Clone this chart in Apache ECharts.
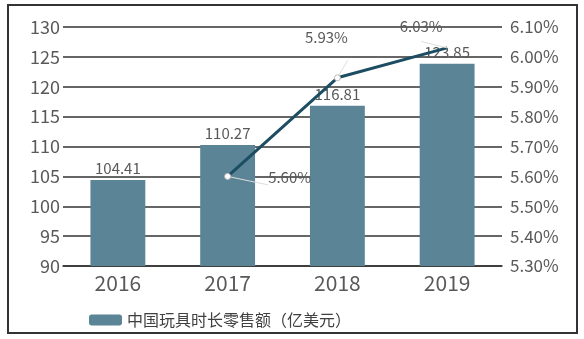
<!DOCTYPE html>
<html>
<head>
<meta charset="UTF-8">
<title>中国玩具时长零售额</title>
<script src="https://cdn.jsdelivr.net/npm/echarts@6/dist/echarts.min.js"></script>
<style>
  html, body { margin: 0; padding: 0; background: #fff; }
  #myChart { width: 584px; height: 339px; }
</style>
</head>
<body>
<div id="myChart"></div>
<script>
  var years = ['2016', '2017', '2018', '2019'];
  var sales = [104.41, 110.27, 116.81, 123.85];
  var rates = [null, 5.60, 5.93, 6.03];
  var salesName = '中国玩具时长零售额（亿美元）';
  var rateName = '增长率';

  var textColor = '#595959';
  var font = '"Noto Sans CJK SC", "Noto Sans", sans-serif';

  // per-point label placement (callout style as in the source picture)
  var rateLabelOffsets = [null, [32, 1], [-11, -24], [-26, -9]];
  var ratePositions = [null, 'right', 'top', 'top'];

  function initChart() {
    var myChart = echarts.init(document.getElementById('myChart'));
    var rateData = rates.map(function (v, i) {
      if (v == null) return null;
      return {
        value: v,
        label: { position: ratePositions[i], offset: rateLabelOffsets[i] },
        symbolSize: i == 3 ? 0 : 6
      };
    });
    myChart.setOption({
      animation: false,
      textStyle: { fontFamily: font },
      graphic: [{
        type: 'rect',
        shape: { x: 8, y: 5, width: 569, height: 328 },
        style: { fill: 'none', stroke: '#333', lineWidth: 2 },
        z: 100
      }],
      grid: { left: 63, right: 82, top: 27, bottom: 73 },
      legend: {
        data: [salesName],
        left: 84, top: 307,
        itemWidth: 33, itemHeight: 11, itemGap: 6,
        textStyle: { fontSize: 16, color: '#404040', fontFamily: font }
      },
      xAxis: {
        type: 'category',
        data: years,
        axisLine: { lineStyle: { color: '#333', width: 1.5 } },
        axisTick: { show: false },
        axisLabel: { fontSize: 21, color: textColor, margin: 7, fontFamily: font }
      },
      yAxis: [{
        type: 'value',
        min: 90, max: 130, interval: 5,
        axisLine: { show: false },
        axisTick: { show: false },
        splitLine: { lineStyle: { color: '#333', width: 1.5 } },
        axisLabel: { fontSize: 18, color: textColor, margin: 3, fontFamily: font }
      }, {
        type: 'value',
        min: 5.3, max: 6.1, interval: 0.1,
        axisLine: { show: false },
        axisTick: { show: false },
        splitLine: { show: false },
        axisLabel: {
          fontSize: 17, color: textColor, margin: 8, fontFamily: font,
          formatter: function (v) { return v.toFixed(2) + '%'; }
        }
      }],
      series: [{
        name: salesName,
        type: 'bar',
        data: sales,
        barWidth: '50%',
        itemStyle: { color: '#5b8597' },
        label: {
          show: true, position: 'top', distance: 4,
          fontSize: 15, color: textColor, fontFamily: font
        }
      }, {
        name: rateName,
        type: 'line',
        yAxisIndex: 1,
        data: rateData,
        symbol: 'circle',
        symbolSize: 6,
        lineStyle: { color: '#1d4d63', width: 3 },
        itemStyle: { color: '#fff', borderColor: '#bbb', borderWidth: 1 },
        label: {
          show: true, fontSize: 15, color: textColor, fontFamily: font,
          formatter: function (p) { return p.value.toFixed(2) + '%'; }
        },
        labelLine: { show: true, lineStyle: { color: '#ddd', width: 1 } },
        z: 5
      }]
    });
  }
  initChart();
</script>
</body>
</html>
